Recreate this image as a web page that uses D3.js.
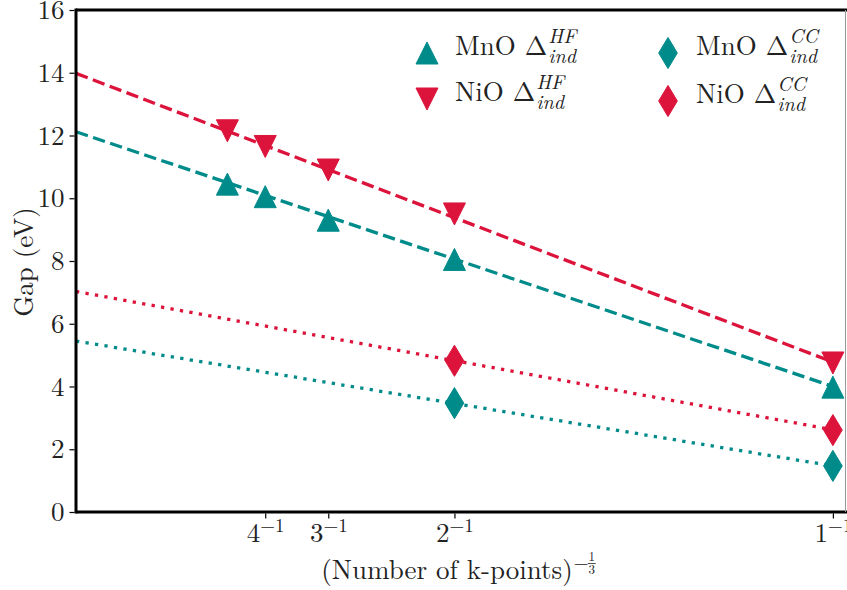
<!DOCTYPE html>
<html><head><meta charset="utf-8">
<script src="https://cdn.jsdelivr.net/npm/d3@7"></script>
<style>body{margin:0;background:#fff}svg{display:block}</style>
</head><body>
<svg id="chart" width="847" height="590"></svg>
<script>
// ---- data ----
const hfX = [0.2, 0.25, 0.3333, 0.5, 1.0];
const mnoHF = [10.45, 10.05, 9.3, 8.05, 3.98];
const nioHF = [12.15, 11.65, 10.9, 9.5, 4.75];
const ccX = [0.5, 1.0];
const mnoCC = [3.47, 1.47];
const nioCC = [4.82, 2.61];
const fitX = [0, 1];
const mnoHFfit = [12.12, 4.0];
const nioHFfit = [13.98, 4.78];
const mnoCCfit = [5.45, 1.47];
const nioCCfit = [7.03, 2.62];
const xTickVals = [0.25, 0.3333, 0.5, 1.0];
const xTickBases = ["4", "3", "2", "1"];
const yTickVals = [0, 2, 4, 6, 8, 10, 12, 14, 16];

const TEAL = "#008b8b", RED = "#dc143c";
const FONT = '"Latin Modern Roman", "CMU Serif", "Liberation Serif", serif';

const svg = d3.select("#chart");
const L = 76, R = 845, T = 10, B = 512;
const x = d3.scaleLinear().domain([0, 1.016]).range([L, R]);
const y = d3.scaleLinear().domain([0, 16]).range([B, T]);

// lines
const line = d3.line().x(d => x(d[0])).y(d => y(d[1]));
function drawLine(xs, ys, color, dash) {
  svg.append("path").datum(xs.map((v, i) => [v, ys[i]]))
    .attr("d", line).attr("fill", "none").attr("stroke", color)
    .attr("stroke-width", 3.3).attr("stroke-dasharray", dash);
}
drawLine(fitX, nioHFfit, RED, "12.5,5.5");
drawLine(fitX, mnoHFfit, TEAL, "12.5,5.5");
drawLine(fitX, nioCCfit, RED, "3.3,6.3");
drawLine(fitX, mnoCCfit, TEAL, "3.3,6.3");

// markers
const S = 22;
const triUp = `M0,${-S/2}L${S/2},${S/2}L${-S/2},${S/2}Z`;
const triDown = `M0,${S/2}L${S/2},${-S/2}L${-S/2},${-S/2}Z`;
const DH = S * Math.SQRT2 / 2, DW = DH * 0.6;
const diamond = `M0,${-DH}L${DW},0L0,${DH}L${-DW},0Z`;
function drawMarkers(xs, ys, path, color) {
  svg.append("g").selectAll("path").data(xs.map((v, i) => [v, ys[i]])).join("path")
    .attr("d", path).attr("transform", d => `translate(${x(d[0])},${y(d[1])})`)
    .attr("fill", color).attr("stroke", color).attr("stroke-width", 1);
}
drawMarkers(hfX, mnoHF, triUp, TEAL);
drawMarkers(hfX, nioHF, triDown, RED);
drawMarkers(ccX, mnoCC, diamond, TEAL);
drawMarkers(ccX, nioCC, diamond, RED);

// frame
svg.append("line").attr("x1", L).attr("x2", L).attr("y1", T - 1.5).attr("y2", B + 1.5).attr("stroke", "#000").attr("stroke-width", 3);
svg.append("line").attr("x1", L).attr("x2", 847).attr("y1", T).attr("y2", T).attr("stroke", "#000").attr("stroke-width", 3);
svg.append("line").attr("x1", L).attr("x2", 847).attr("y1", B).attr("y2", B).attr("stroke", "#000").attr("stroke-width", 3);
svg.append("line").attr("x1", 845.5).attr("x2", 845.5).attr("y1", T).attr("y2", B).attr("stroke", "#999").attr("stroke-width", 1);

function txt(sel, size) {
  return sel.style("font-family", FONT).style("font-size", size + "px").attr("fill", "#222");
}

// y axis
const yAxis = d3.axisLeft(y).tickValues(yTickVals).tickSize(5).tickPadding(5);
const gy = svg.append("g").attr("transform", `translate(${L - 1.5},0)`).call(yAxis);
gy.select(".domain").remove();
gy.selectAll("line").attr("stroke", "#000").attr("stroke-width", 1.2);
txt(gy.selectAll("text"), 27);

// x axis
const xAxis = d3.axisBottom(x).tickValues(xTickVals).tickSize(5).tickFormat(() => "");
const gx = svg.append("g").attr("transform", `translate(0,${B + 1.5})`).call(xAxis);
gx.select(".domain").remove();
gx.selectAll("line").attr("stroke", "#000").attr("stroke-width", 1.2);
gx.selectAll(".tick").each(function (d, i) {
  const t = txt(d3.select(this).append("text").attr("y", 28).attr("text-anchor", "middle"), 27);
  t.append("tspan").text(xTickBases[i]);
  t.append("tspan").attr("dy", -10).style("font-size", "19px").text("\u22121");
});

// x label with stacked fraction exponent
const xlY = 579;
const xl = txt(svg.append("text").attr("x", 0).attr("y", xlY), 27).text("(Number of k-points)");
const xlW = xl.node().getComputedTextLength();
const xl0 = 460 - (xlW + 26) / 2;
xl.attr("x", xl0);
const ex = xl0 + xlW + 1;
txt(svg.append("text").attr("x", ex).attr("y", xlY - 10), 19).text("\u2212");
const fx = ex + 18;
txt(svg.append("text").attr("x", fx).attr("y", xlY - 18).attr("text-anchor", "middle"), 13).text("1");
svg.append("line").attr("x1", fx - 4).attr("x2", fx + 4).attr("y1", xlY - 15.5).attr("y2", xlY - 15.5)
  .attr("stroke", "#222").attr("stroke-width", 0.8);
txt(svg.append("text").attr("x", fx).attr("y", xlY - 5).attr("text-anchor", "middle"), 13).text("3");

// y label
txt(svg.append("text").attr("transform", "translate(33,262) rotate(-90)").attr("text-anchor", "middle"), 27)
  .text("Gap (eV)");

// legend
const legend = [
  {mx: 427, my: 53, path: triUp, color: TEAL, name: "MnO", sup: "HF"},
  {mx: 427, my: 99, path: triDown, color: RED, name: "NiO", sup: "HF"},
  {mx: 668, my: 53, path: diamond, color: TEAL, name: "MnO", sup: "CC"},
  {mx: 668, my: 101, path: diamond, color: RED, name: "NiO", sup: "CC"}
];
legend.forEach(e => {
  svg.append("path").attr("d", e.path).attr("transform", `translate(${e.mx},${e.my})`)
    .attr("fill", e.color).attr("stroke", e.color).attr("stroke-width", 1);
  const bx = e.mx + 28, by = e.my + 2;
  const t = txt(svg.append("text").attr("x", bx).attr("y", by), 27).text(e.name + " \u0394");
  const w = t.node().getComputedTextLength();
  txt(svg.append("text").attr("x", bx + w + 1).attr("y", by - 12), 20)
    .style("font-style", "italic").text(e.sup);
  txt(svg.append("text").attr("x", bx + w + 1).attr("y", by + 8), 20)
    .style("font-style", "italic").text("ind");
});
</script>
</body></html>
